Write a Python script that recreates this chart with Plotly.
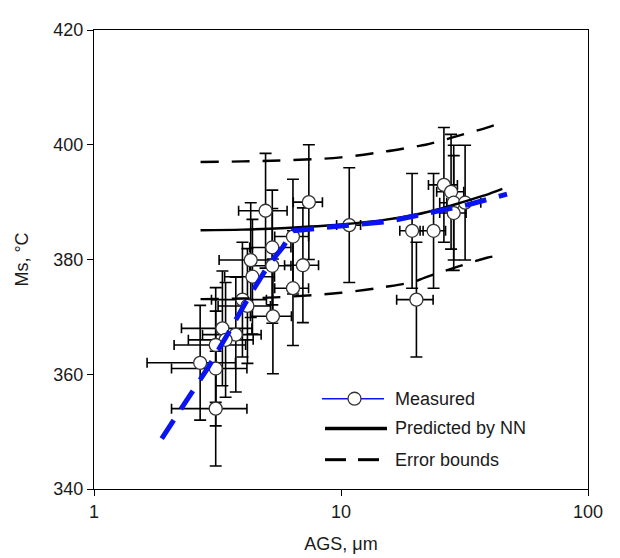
import plotly.graph_objects as go

# Measured data (AGS in um, Ms in degC)
ags = [4.95, 7.41, 6.39, 5.27, 5.27, 4.31, 7.01, 4.38, 6.39, 3.99, 4.18, 5.30, 3.31, 3.75,
       3.41, 3.11, 2.69, 3.11, 3.11, 10.8, 19.4, 23.7, 20.2, 26.1, 27.9, 28.6, 31.8, 28.6]
ms = [388.5, 390.0, 384.0, 382.1, 378.9, 379.9, 379.0, 377.0, 375.0, 373.0, 371.9, 370.1, 368.0, 366.9,
      366.0, 365.1, 362.0, 361.0, 354.0, 386.0, 385.0, 385.0, 373.0, 393.0, 391.8, 389.9, 389.9, 388.1]
ags_err = [1.1, 1.0, 1.0, 1.0, 1.0, 1.1, 1.1, 1.0, 1.0, 1.0, 1.0, 1.0, 1.05, 1.0,
           1.0, 1.0, 1.05, 1.05, 1.05, 1.2, 2.1, 2.8, 3.4, 3.5, 3.5, 3.5, 5.0, 3.5]
ms_err = [10] * len(ms)

# NN prediction and error bounds
nn_x = [2.7, 4, 6, 10, 15, 20, 25, 30, 35, 40, 45]
nn_y = [385.1, 385.2, 385.5, 386.1, 386.9, 387.8, 388.8, 389.8, 390.7, 391.5, 392.3]
up_x = [2.7, 4, 6, 10, 15, 20, 22, 29.5, 39, 45]
up_y = [397.0, 397.1, 397.3, 397.8, 398.8, 399.7, 400.0, 401.5, 403.0, 403.9]
lo_x = [2.7, 4, 6, 10, 15, 19.6, 22, 29.5, 39, 45]
lo_y = [373.1, 373.2, 373.5, 374.2, 375.2, 376.1, 376.9, 378.7, 380.3, 380.8]

# Blue dashed trend
bl_x = [1.88, 2.35, 2.9, 3.5, 4.2, 5.1, 5.8, 6.4, 7.9, 9.7, 15.4, 22.3, 32.4, 47]
bl_y = [348.8, 355.1, 361.2, 367.2, 373.2, 379.1, 382.1, 385.0, 385.5, 385.8, 386.6, 388.0, 389.5, 391.4]

FONT = "Liberation Sans, Arial, sans-serif"
TXT = "#1a1a1a"

fig = go.Figure()

fig.add_trace(go.Scatter(
    x=ags, y=ms, mode="markers",
    marker=dict(symbol="circle", size=13, color="white", line=dict(color="#333333", width=1.3)),
    error_x=dict(type="data", array=ags_err, color="black", thickness=1.6, width=5),
    error_y=dict(type="data", array=ms_err, color="black", thickness=1.6, width=6),
    showlegend=False, hoverinfo="skip"))

fig.add_trace(go.Scatter(x=nn_x, y=nn_y, mode="lines", line=dict(color="black", width=2.4, shape="spline"),
                         showlegend=False))
fig.add_trace(go.Scatter(x=up_x, y=up_y, mode="lines",
                         line=dict(color="black", width=2.4, dash="18px,13px", shape="spline"), showlegend=False))
fig.add_trace(go.Scatter(x=lo_x, y=lo_y, mode="lines",
                         line=dict(color="black", width=2.4, dash="18px,13px", shape="spline"), showlegend=False))
fig.add_trace(go.Scatter(x=bl_x, y=bl_y, mode="lines",
                         line=dict(color="#0a14f0", width=5, dash="22px,13px"), showlegend=False))

# Page offset of the figure inside the screenshot
OFF = 7
# Plot area as seen in the reference screenshot
REF_L, REF_T, REF_R, REF_B = 93, 23, 587, 488
W, H = 620, 558
L, T = REF_L - OFF, REF_T - OFF
pw, ph = REF_R - REF_L, REF_B - REF_T
R = W - L - pw
B = H - T - ph


def px(xp):
    return (xp - REF_L) / pw


def py(yp):
    return (REF_B - yp) / ph


shapes = []
# Measured
shapes.append(dict(type="line", xref="paper", yref="paper", x0=px(321), x1=px(383), y0=py(396.5), y1=py(396.5),
                   line=dict(color="#0a14f0", width=1.4)))
shapes.append(dict(type="circle", xref="paper", yref="paper", x0=px(347), x1=px(360), y0=py(403), y1=py(390),
                   fillcolor="white", line=dict(color="#333333", width=1.3)))
# Predicted by NN
shapes.append(dict(type="line", xref="paper", yref="paper", x0=px(324), x1=px(386), y0=py(426.7), y1=py(426.7),
                   line=dict(color="black", width=3.6)))
# Error bounds
for a, b in [(324, 345), (357, 378)]:
    shapes.append(dict(type="line", xref="paper", yref="paper", x0=px(a), x1=px(b), y0=py(458.3), y1=py(458.3),
                       line=dict(color="black", width=3)))

annotations = []
for label, yy in [("Measured", 396.5), ("Predicted by NN", 426.7), ("Error bounds", 458.3)]:
    annotations.append(dict(text=label, xref="paper", yref="paper", x=px(392), y=py(yy), xanchor="left",
                            yanchor="middle", showarrow=False, font=dict(family=FONT, size=18, color=TXT)))

fig.update_layout(
    width=W, height=H, margin=dict(l=L, r=R, t=T, b=B),
    paper_bgcolor="white", plot_bgcolor="white",
    font=dict(family=FONT, color=TXT),
    shapes=shapes, annotations=annotations,
    xaxis=dict(type="log", range=[0, 2], tickvals=[1, 10, 100], ticktext=["1", "10", "100"],
               ticks="outside", ticklen=6, tickcolor="black", tickwidth=1,
               showline=True, linecolor="black", linewidth=1.3, mirror=True, showgrid=False, zeroline=False,
               tickfont=dict(size=18, family=FONT, color=TXT),
               title=dict(text="AGS, μm", font=dict(size=18, family=FONT, color=TXT), standoff=16)),
    yaxis=dict(range=[340, 420], tickvals=[340, 360, 380, 400, 420],
               ticks="outside", ticklen=6, tickcolor="black", tickwidth=1,
               showline=True, linecolor="black", linewidth=1.3, mirror=True, showgrid=False, zeroline=False,
               tickfont=dict(size=18, family=FONT, color=TXT),
               title=dict(text="Ms, °C", font=dict(size=18, family=FONT, color=TXT), standoff=19)),
)

fig.write_html("out.html")
